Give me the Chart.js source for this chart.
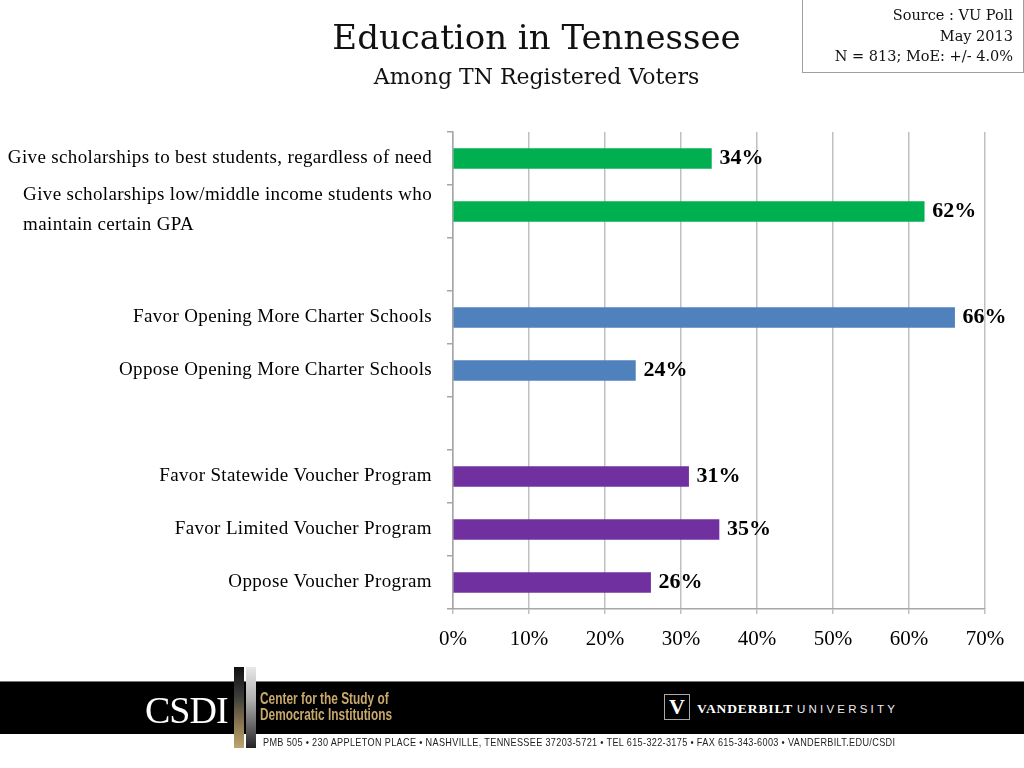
<!DOCTYPE html>
<html>
<head>
<meta charset="utf-8">
<script src="https://cdn.jsdelivr.net/npm/chart.js@4/dist/chart.umd.min.js"></script>
<style>
  body { margin: 0; width: 1024px; height: 768px; position: relative; overflow: hidden; background: #fff; font-family: "Liberation Serif", serif; }
  #wrap { position: absolute; left: 0; top: 0; width: 1024px; height: 670px; }
  .title { position: absolute; left: 0; width: 1073px; text-align: center; color: #111; font-family: "DejaVu Serif", serif; white-space: nowrap; }
  #t1 { top: 17px; font-size: 34px; }
  #t2 { top: 64px; font-size: 22px; }
  #source { position: absolute; left: 802px; top: -1px; width: 210px; height: 67px; border: 1px solid #a0a0a0; padding-right: 10px;
            text-align: right; font-family: "DejaVu Serif", serif; font-size: 14.5px; line-height: 20.5px; padding-top: 5px; color: #111; }
  #band { position: absolute; left: 0; top: 681px; width: 1024px; height: 52px; background: #000; border-top: 1px solid #777; }
  #csdi { position: absolute; left: 145px; top: 688px; color: #fff; font-size: 38px; letter-spacing: -1px; }
  .stripe { position: absolute; top: 667px; width: 10px; height: 81px; }
  #s1 { left: 234px; background: linear-gradient(to bottom, #111 0%, #3a3a3a 35%, #8a7650 70%, #bca56f 100%); }
  #s2 { left: 246px; background: linear-gradient(to bottom, #e8e8e8 0%, #b0b0b0 40%, #555 80%, #222 100%); }
  #center { position: absolute; left: 260px; top: 690px; color: #c9a96b; font-family: "Liberation Sans", sans-serif;
            font-weight: bold; font-size: 16.5px; line-height: 16px; white-space: nowrap; transform: scaleX(0.72); transform-origin: left top; }
  #vbox { position: absolute; left: 664px; top: 694px; width: 24px; height: 24px; border: 1px solid #aaa; color: #fff;
          font-weight: bold; font-size: 22px; text-align: center; line-height: 24px; }
  #vu { position: absolute; left: 697px; top: 699px; color: #fff; white-space: nowrap; }
  #vu b { font-size: 13.5px; letter-spacing: 0.9px; }
  #vu span { font-family: "Liberation Sans", sans-serif; font-size: 11.5px; letter-spacing: 3.2px; margin-left: 4px; color: #eee; }
  #addr { position: absolute; left: 263px; top: 736px; color: #222; white-space: nowrap;
          font-family: "Liberation Sans", sans-serif; font-size: 11px; letter-spacing: 0.4px; transform-origin: left top; }
</style>
</head>
<body>
<div id="wrap"><canvas id="chart"></canvas></div>
<div class="title" id="t1">Education in Tennessee</div>
<div class="title" id="t2">Among TN Registered Voters</div>
<div id="source">Source : VU Poll<br>May 2013<br>N = 813; MoE: +/- 4.0%</div>

<div id="band"></div>
<div id="csdi">CSDI</div>
<div class="stripe" id="s1"></div>
<div class="stripe" id="s2"></div>
<div id="center">Center for the Study of<br>Democratic Institutions</div>
<div id="vbox">V</div>
<div id="vu"><b>VANDERBILT</b><span>UNIVERSITY</span></div>
<div id="addr">PMB 505 • 230 APPLETON PLACE • NASHVILLE, TENNESSEE 37203-5721 • TEL 615-322-3175 • FAX 615-343-6003 • VANDERBILT.EDU/CSDI</div>

<script>
// categories top to bottom; empty strings are the gaps between groups
const categories = [
    "Give scholarships to best students, regardless of need",
    ["Give scholarships low/middle income students who", "maintain certain GPA"],
    "",
    "Favor Opening More Charter Schools",
    "Oppose Opening More Charter Schools",
    "",
    "Favor Statewide Voucher Program",
    "Favor Limited Voucher Program",
    "Oppose Voucher Program"
];
const values = [34, 62, null, 66, 24, null, 31, 35, 26];
const xTicks = [0, 10, 20, 30, 40, 50, 60, 70];

const green = "#00b050", blue = "#4f81bd", purple = "#7030a0";
const barColors = [green, green, null, blue, blue, null, purple, purple, purple];

// squeeze the address line to the width of the band
const addr = document.getElementById("addr");
addr.style.transform = "scaleX(" + (632 / addr.offsetWidth) + ")";

// draws the category labels and the value labels
const labelPlugin = {
    id: "labels",
    afterDraw(chart) {
        const ctx = chart.ctx;
        const xs = chart.scales.x, ys = chart.scales.y;
        ctx.save();
        ctx.fillStyle = "#000";
        ctx.textBaseline = "middle";
        ctx.textAlign = "left";

        ctx.font = '19px "Liberation Serif"';
        ctx.letterSpacing = "0.35px";
        const right = chart.chartArea.left - 21;
        categories.forEach((lab, i) => {
            if (!lab) return;
            const lines = Array.isArray(lab) ? lab : [lab];
            const w = Math.max(...lines.map(l => ctx.measureText(l).width));
            const cy = ys.getPixelForValue(i) - (lines.length > 1 ? 1 : 0);
            lines.forEach((l, j) => {
                ctx.fillText(l, right - w, cy + (j - (lines.length - 1) / 2) * 30);
            });
        });

        ctx.letterSpacing = "0px";
        ctx.font = 'bold 22px "Liberation Serif"';
        values.forEach((v, i) => {
            if (v == null) return;
            ctx.fillText(v + "%", xs.getPixelForValue(v) + 8, ys.getPixelForValue(i));
        });
        ctx.restore();
    }
};

new Chart(document.getElementById("chart"), {
    type: "bar",
    data: {
        labels: categories,
        datasets: [{
            data: values,
            backgroundColor: barColors,
            barThickness: 20
        }]
    },
    options: {
        indexAxis: "y",
        responsive: true,
        maintainAspectRatio: false,
        animation: false,
        layout: { padding: { top: 132, left: 0, right: 39, bottom: 11 } },
        plugins: { legend: { display: false }, tooltip: { enabled: false } },
        scales: {
            x: {
                min: 0,
                max: 70,
                afterBuildTicks: s => { s.ticks = xTicks.map(v => ({ value: v })); },
                afterFit: s => { s.height = 50; },
                ticks: {
                    callback: v => v + "%",
                    color: "#000",
                    font: { family: "Liberation Serif", size: 21 },
                    padding: 13
                },
                grid: { color: "#c0c0c0", tickLength: 5, lineWidth: 1.5 },
                border: { color: "#a6a6a6", width: 1.5 }
            },
            y: {
                afterFit: s => { s.width = 453; },
                ticks: { display: false },
                grid: { offset: true, drawOnChartArea: false, tickLength: 6, color: "#a6a6a6", lineWidth: 1.5 },
                border: { color: "#a6a6a6", width: 1.5 }
            }
        }
    },
    plugins: [labelPlugin]
});
</script>
</body>
</html>
